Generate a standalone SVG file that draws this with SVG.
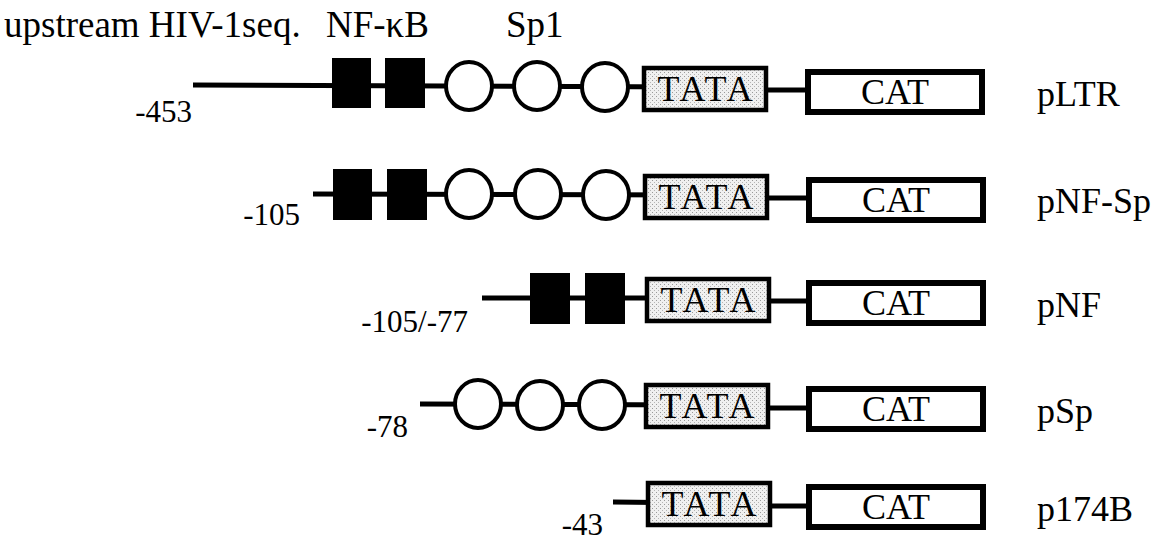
<svg xmlns="http://www.w3.org/2000/svg" width="1162" height="540" viewBox="0 0 1162 540">
  <style>
    text { font-family: "Liberation Serif", "Times New Roman", serif; fill: #000; }
    .title { font-size: 37px; }
    .pos { font-size: 31px; text-anchor: end; }
    .name { font-size: 36px; }
    .box-text { font-size: 36px; text-anchor: middle; }
    .dna { stroke: #000; stroke-width: 5; fill: none; }
    .nfkb { fill: #000; }
    .sp1 { fill: #fff; stroke: #000; stroke-width: 4; }
    .tata { fill: url(#stipple); stroke: #000; stroke-width: 4.5; }
    .cat { fill: #fff; stroke: #000; stroke-width: 6; }
  </style>
  <defs>
    <!-- fine grey stipple used for the TATA element -->
    <pattern id="stipple" width="4" height="4" patternUnits="userSpaceOnUse">
      <rect width="4" height="4" fill="#f0f0f0"/>
      <rect x="0" y="0" width="1" height="1" fill="#999"/>
      <rect x="2" y="2" width="1" height="1" fill="#b5b5b5"/>
    </pattern>
  </defs>

  <rect width="1162" height="540" fill="#fff"/>

  <!-- header labels -->
  <g id="header">
    <text class="title" x="4" y="37">upstream HIV-1seq.</text>
    <text class="title" x="326" y="37">NF-κB</text>
    <text class="title" x="506" y="37">Sp1</text>
  </g>

  <!-- DNA backbones -->
  <g id="connectors">
    <polyline class="dna" points="193,85 700,87"/>
    <line class="dna" x1="760" y1="90" x2="810" y2="90"/>
    <polyline class="dna" points="313,194 700,195"/>
    <line class="dna" x1="760" y1="198" x2="810" y2="198"/>
    <polyline class="dna" points="482,298 700,298"/>
    <line class="dna" x1="760" y1="301" x2="810" y2="301"/>
    <polyline class="dna" points="420,404 700,405"/>
    <line class="dna" x1="760" y1="408" x2="810" y2="408"/>
    <polyline class="dna" points="613,502 700,503"/>
    <line class="dna" x1="760" y1="506" x2="810" y2="506"/>
  </g>

  <!-- pLTR -->
  <g id="pLTR">
    <text class="pos" x="192" y="122">-453</text>
    <rect id="pLTR-nf1" class="nfkb" x="332" y="58" width="39" height="50"/>
    <rect id="pLTR-nf2" class="nfkb" x="385" y="58" width="40" height="50"/>
    <ellipse id="pLTR-sp1a" class="sp1" cx="469" cy="86" rx="23" ry="24"/>
    <ellipse id="pLTR-sp1b" class="sp1" cx="537" cy="86" rx="23" ry="24"/>
    <ellipse id="pLTR-sp1c" class="sp1" cx="605" cy="87" rx="23" ry="24"/>
    <g id="pLTR-tata"><rect class="tata" x="644" y="68" width="122" height="42"/><text class="box-text" x="705" y="101" textLength="95">TATA</text></g>
    <g id="pLTR-cat"><rect class="cat" x="808" y="72" width="174" height="40"/><text class="box-text" x="895" y="104">CAT</text></g>
    <text class="name" x="1037" y="106">pLTR</text>
  </g>

  <!-- pNF-Sp -->
  <g id="pNF-Sp">
    <text class="pos" x="300" y="225">-105</text>
    <rect id="pNF-Sp-nf1" class="nfkb" x="333" y="169" width="39" height="51"/>
    <rect id="pNF-Sp-nf2" class="nfkb" x="387" y="169" width="40" height="51"/>
    <ellipse id="pNF-Sp-sp1a" class="sp1" cx="469" cy="194" rx="23" ry="24"/>
    <ellipse id="pNF-Sp-sp1b" class="sp1" cx="538" cy="194" rx="23" ry="24"/>
    <ellipse id="pNF-Sp-sp1c" class="sp1" cx="606" cy="195" rx="23" ry="24"/>
    <g id="pNF-Sp-tata"><rect class="tata" x="645" y="176" width="122" height="42"/><text class="box-text" x="706" y="209" textLength="95">TATA</text></g>
    <g id="pNF-Sp-cat"><rect class="cat" x="809" y="180" width="174" height="40"/><text class="box-text" x="896" y="212">CAT</text></g>
    <text class="name" x="1037" y="213">pNF-Sp</text>
  </g>

  <!-- pNF -->
  <g id="pNF">
    <text class="pos" x="468" y="332">-105/-77</text>
    <rect id="pNF-nf1" class="nfkb" x="530" y="273" width="40" height="51"/>
    <rect id="pNF-nf2" class="nfkb" x="585" y="273" width="40" height="51"/>
    <g id="pNF-tata"><rect class="tata" x="647" y="279" width="122" height="42"/><text class="box-text" x="708" y="312" textLength="95">TATA</text></g>
    <g id="pNF-cat"><rect class="cat" x="809" y="283" width="174" height="40"/><text class="box-text" x="896" y="315">CAT</text></g>
    <text class="name" x="1037" y="317">pNF</text>
  </g>

  <!-- pSp -->
  <g id="pSp">
    <text class="pos" x="408" y="437">-78</text>
    <ellipse id="pSp-sp1a" class="sp1" cx="478" cy="404" rx="23" ry="24"/>
    <ellipse id="pSp-sp1b" class="sp1" cx="540" cy="405" rx="23" ry="24"/>
    <ellipse id="pSp-sp1c" class="sp1" cx="602" cy="405" rx="23" ry="24"/>
    <g id="pSp-tata"><rect class="tata" x="646" y="385" width="122" height="42"/><text class="box-text" x="707" y="418" textLength="95">TATA</text></g>
    <g id="pSp-cat"><rect class="cat" x="809" y="389" width="174" height="40"/><text class="box-text" x="896" y="421">CAT</text></g>
    <text class="name" x="1037" y="423">pSp</text>
  </g>

  <!-- p174B -->
  <g id="p174B">
    <text class="pos" x="603" y="535">-43</text>
    <g id="p174B-tata"><rect class="tata" x="648" y="483" width="122" height="42"/><text class="box-text" x="709" y="516" textLength="95">TATA</text></g>
    <g id="p174B-cat"><rect class="cat" x="809" y="487" width="174" height="40"/><text class="box-text" x="896" y="519">CAT</text></g>
    <text class="name" x="1037" y="521">p174B</text>
  </g>
</svg>
